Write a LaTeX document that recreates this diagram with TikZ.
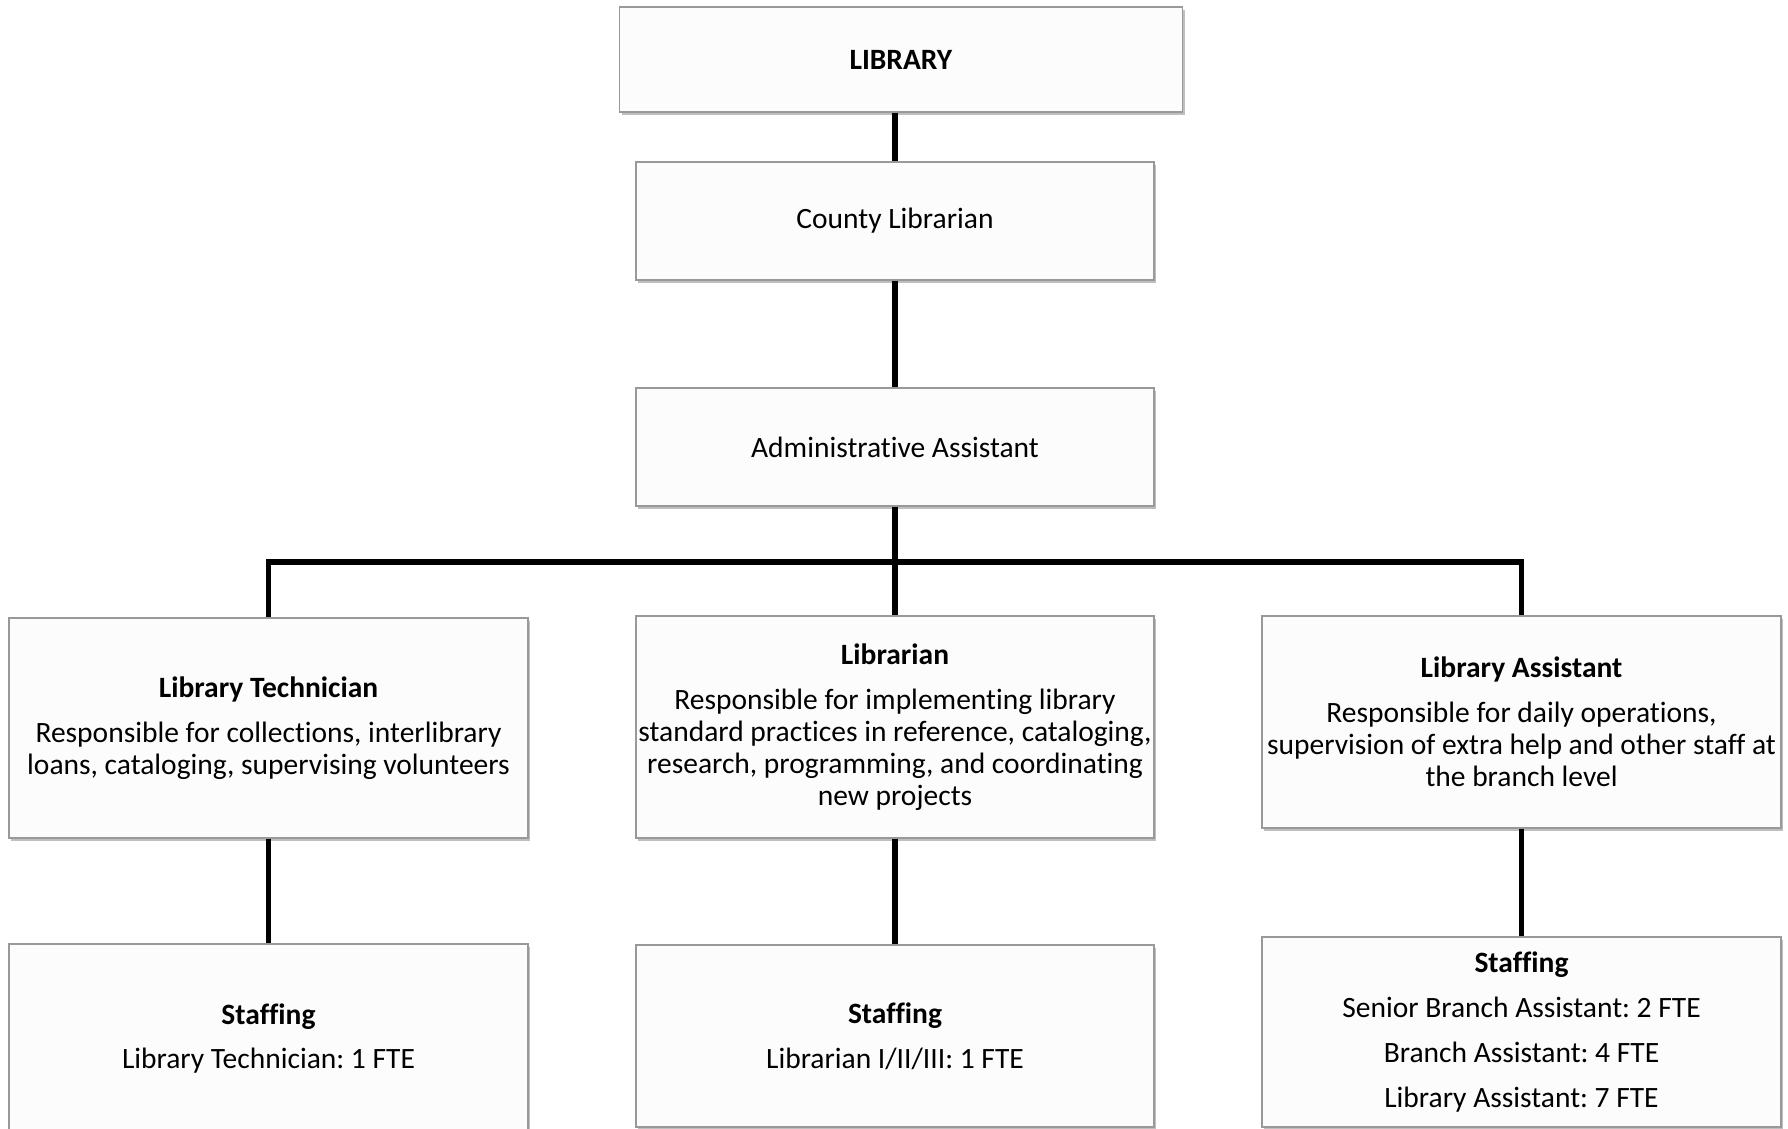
\documentclass[tikz,border=0pt]{standalone}
\usepackage{fontspec}
\setmainfont{Carlito}[Ligatures=NoCommon]
\usetikzlibrary{shadows}
\begin{document}
\frenchspacing
\begin{tikzpicture}[x=0.5pt,y=-0.5pt,
  box/.style={draw=black!40, line width=0.6pt, fill=white!99!black, align=center, inner sep=0pt,
    font=\fontsize{14.75}{16}\selectfont,
    drop shadow={shadow xshift=1.2pt, shadow yshift=-1.6pt, fill=black, opacity=0.25}},
  conn/.style={line width=2.6pt, black}
]
\useasboundingbox[fill=white] (0,0) rectangle (1788,1129);
\node[box, minimum width=281.75pt, minimum height=52.5pt] (lib) at (901,59.5) {\textbf{LIBRARY}};
\node[box, minimum width=259pt, minimum height=59pt] (county) at (895,221) {County Librarian};
\node[box, minimum width=259pt, minimum height=59pt] (admin) at (895,447) {Administrative Assistant};
\node[box, minimum width=259.5pt, minimum height=110pt] (tech) at (268.5,728)
  {\textbf{Library Technician}\\[6.3pt]Responsible for collections, interlibrary\\loans, cataloging, supervising volunteers};
\node[box, minimum width=259pt, minimum height=111pt] (libr) at (895,727)
  {\textbf{Librarian}\\[6.3pt]Responsible for implementing library\\standard practices in reference, cataloging,\\research, programming, and coordinating\\new projects};
\node[box, minimum width=259.5pt, minimum height=106pt] (asst) at (1521.5,722)
  {\textbf{Library Assistant}\\[6.3pt]Responsible for daily operations,\\supervision of extra help and other staff at\\the branch level};
\node[box, minimum width=259.5pt, minimum height=94.6pt] (st1) at (268.5,1038.6)
  {\textbf{Staffing}\\[6.4pt]Library Technician: 1 FTE};
\node[box, minimum width=259pt, minimum height=91pt] (st2) at (895,1036)
  {\textbf{Staffing}\\[6.4pt]Librarian I/II/III: 1 FTE};
\node[box, minimum width=259.5pt, minimum height=95pt] (st3) at (1521.5,1032)
  {\textbf{Staffing}\\[6.4pt]Senior Branch Assistant: 2 FTE\\[6.4pt]Branch Assistant: 4 FTE\\[6.4pt]Library Assistant: 7 FTE};
\coordinate (bar) at (895,562);
\draw[conn] (county.north) -- (county.north |- lib.south);
\draw[conn] (admin.north) -- (county.south);
\draw[conn] (admin.south) -- (libr.north);
\draw[conn] (tech.north) -- (tech.north |- bar) -- (asst.north |- bar) -- (asst.north);
\draw[conn] (tech.south) -- (st1.north);
\draw[conn] (libr.south) -- (st2.north);
\draw[conn] (asst.south) -- (st3.north);
\end{tikzpicture}
\end{document}
